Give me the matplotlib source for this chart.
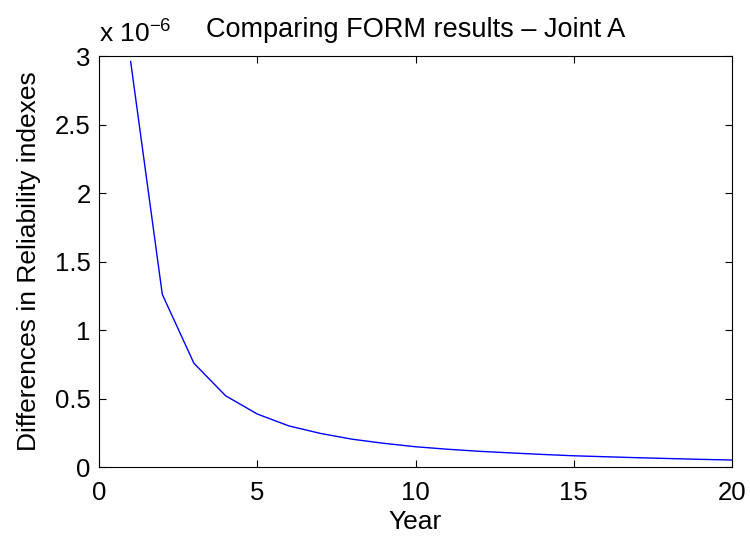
import matplotlib
matplotlib.use('Agg')
import matplotlib.pyplot as plt
from matplotlib.ticker import FuncFormatter

plt.rcParams['font.family'] = ['Liberation Sans', 'DejaVu Sans']
plt.rcParams['mathtext.default'] = 'regular'

# reliability index differences (units of 1e-6)
years = list(range(1, 21))
diffs_e6 = [2.96, 1.26, 0.757, 0.52, 0.387, 0.30, 0.245, 0.203, 0.173, 0.148,
            0.13, 0.115, 0.103, 0.092, 0.082, 0.075, 0.068, 0.062, 0.056, 0.051]
diffs = [d * 1e-6 for d in diffs_e6]

fs = 19

fig = plt.figure(figsize=(7.5, 5.36), dpi=100)
ax = fig.add_axes([0.132, 0.1287, 0.844, 0.7668])

ax.plot(years, diffs, color='blue', linewidth=1.0)

ax.set_xlim(0, 20)
ax.set_ylim(0, 3e-6)
ax.set_xticks([0, 5, 10, 15, 20])
ax.set_yticks([i * 0.5e-6 for i in range(7)])
ax.yaxis.set_major_formatter(FuncFormatter(lambda v, p: '%g' % round(v * 1e6, 3)))

ax.tick_params(direction='in', length=5, width=0.8, labelsize=18.5,
               top=True, right=True, pad=6)
ax.tick_params(axis='x', pad=10)
for s in ax.spines.values():
    s.set_linewidth(0.8)

ax.set_xlabel('Year', fontsize=fs, labelpad=4)
ax.set_ylabel('Differences in Reliability indexes', fontsize=fs, labelpad=10)
ax.set_title('Comparing FORM results \u2013 Joint A', fontsize=19.5, pad=14)
ax.text(0.0, 1.02, 'x 10$^{\u22126}$', transform=ax.transAxes, fontsize=fs,
        ha='left', va='bottom')

fig.savefig('out.png', dpi=100)
